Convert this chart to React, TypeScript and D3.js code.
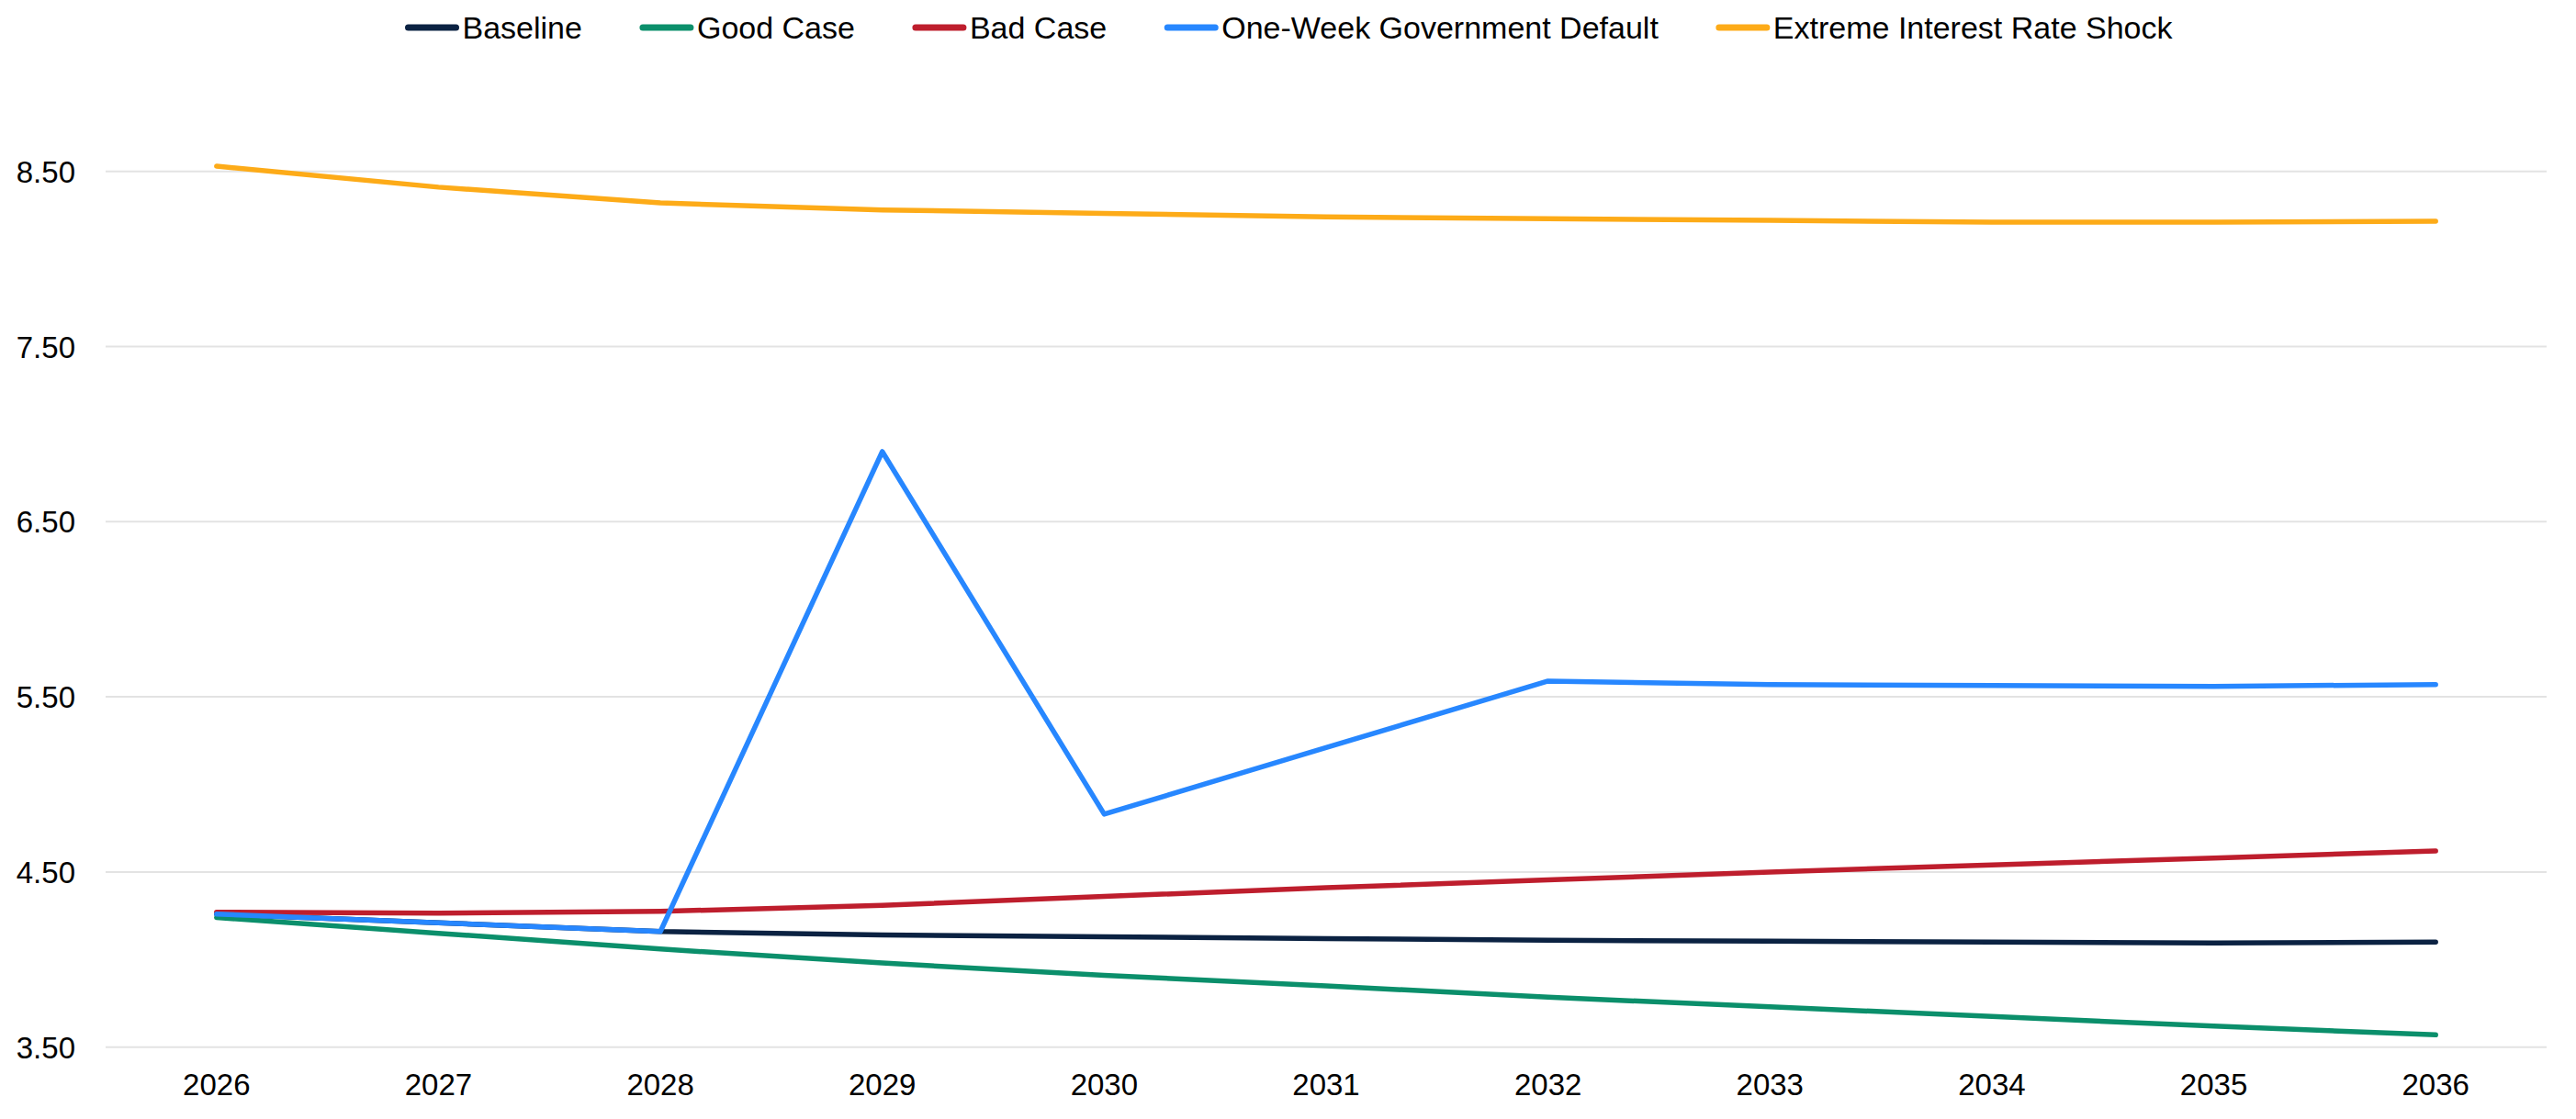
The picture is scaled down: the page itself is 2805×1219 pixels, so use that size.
import React, { useEffect, useRef } from "react";
import * as d3 from "d3";

const years = ["2026", "2027", "2028", "2029", "2030", "2031", "2032", "2033", "2034", "2035", "2036"];
const yTicks = [3.5, 4.5, 5.5, 6.5, 7.5, 8.5];

const baseline = [4.26, 4.21, 4.16, 4.14, 4.13, 4.12, 4.11, 4.105, 4.1, 4.095, 4.1];
const goodCase = [4.24, 4.15, 4.06, 3.98, 3.91, 3.85, 3.785, 3.73, 3.675, 3.62, 3.57];
const badCase = [4.27, 4.265, 4.275, 4.31, 4.36, 4.41, 4.455, 4.5, 4.54, 4.58, 4.62];
const govDefault = [4.26, 4.21, 4.16, 6.9, 4.83, 5.21, 5.59, 5.57, 5.565, 5.56, 5.57];
const rateShock = [8.53, 8.41, 8.32, 8.28, 8.26, 8.24, 8.23, 8.22, 8.21, 8.21, 8.215];

const seriesNames = [
  "Baseline",
  "Good Case",
  "Bad Case",
  "One-Week Government Default",
  "Extreme Interest Rate Shock",
];
const seriesValues = [baseline, goodCase, badCase, govDefault, rateShock];
const seriesColors = ["#0b2242", "#0b8f6b", "#be1e2d", "#2787ff", "#fdab18"];

const FONT = "'Liberation Sans', Arial, sans-serif";

export default function App() {
  const svgRef = useRef<SVGSVGElement>(null);

  useEffect(() => {
    document.body.style.margin = "0";
    const width = 2805;
    const height = 1219;

    const root = d3.select(svgRef.current);
    root.selectAll("*").remove();
    root.attr("width", width).attr("height", height).style("background", "#fff");

    // scales
    const x = d3.scaleBand().domain(years).range([115, 2773]);
    const xc = (d: string) => (x(d) || 0) + x.bandwidth() / 2;
    const y = d3.scaleLinear().domain([3.5, 8.5]).range([1140.7, 186.7]);

    // gridlines + y labels
    const grid = root.append("g");
    grid
      .selectAll("line")
      .data(yTicks)
      .join("line")
      .attr("x1", 115)
      .attr("x2", 2773)
      .attr("y1", (d) => y(d))
      .attr("y2", (d) => y(d))
      .attr("stroke", "#e3e3e3")
      .attr("stroke-width", 2);

    grid
      .selectAll("text")
      .data(yTicks)
      .join("text")
      .attr("x", 82)
      .attr("y", (d) => y(d) + 12)
      .attr("text-anchor", "end")
      .style("font-family", FONT)
      .style("font-size", "33px")
      .attr("fill", "#000")
      .text((d) => d3.format(".2f")(d));

    // x labels
    root
      .append("g")
      .selectAll("text")
      .data(years)
      .join("text")
      .attr("x", (d) => xc(d))
      .attr("y", 1193)
      .attr("text-anchor", "middle")
      .style("font-family", FONT)
      .style("font-size", "33px")
      .attr("fill", "#000")
      .text((d) => d);

    // lines
    const line = d3
      .line<number>()
      .x((_, i) => xc(years[i]))
      .y((d) => y(d));

    root
      .append("g")
      .selectAll("path")
      .data(seriesValues)
      .join("path")
      .attr("d", (d) => line(d))
      .attr("fill", "none")
      .attr("stroke", (_, i) => seriesColors[i])
      .attr("stroke-width", 5.5)
      .attr("stroke-linejoin", "round")
      .attr("stroke-linecap", "round");

    // legend, centred at the top
    const legend = root.append("g");
    let offset = 0;
    seriesNames.forEach((name, i) => {
      const item = legend.append("g").attr("transform", `translate(${offset},0)`);
      item
        .append("line")
        .attr("x1", 3)
        .attr("x2", 55)
        .attr("y1", 30)
        .attr("y2", 30)
        .attr("stroke", seriesColors[i])
        .attr("stroke-width", 7)
        .attr("stroke-linecap", "round");
      const t = item
        .append("text")
        .attr("x", 62)
        .attr("y", 42)
        .style("font-family", FONT)
        .style("font-size", "34px")
        .attr("fill", "#000")
        .text(name);
      const w = (t.node() as SVGTextElement).getComputedTextLength();
      offset += 62 + w + 63;
    });
    const total = offset - 63;
    legend.attr("transform", `translate(${(width - total) / 2 + 1},0)`);
  }, []);

  return <svg ref={svgRef} style={{ display: "block" }}></svg>;
}
